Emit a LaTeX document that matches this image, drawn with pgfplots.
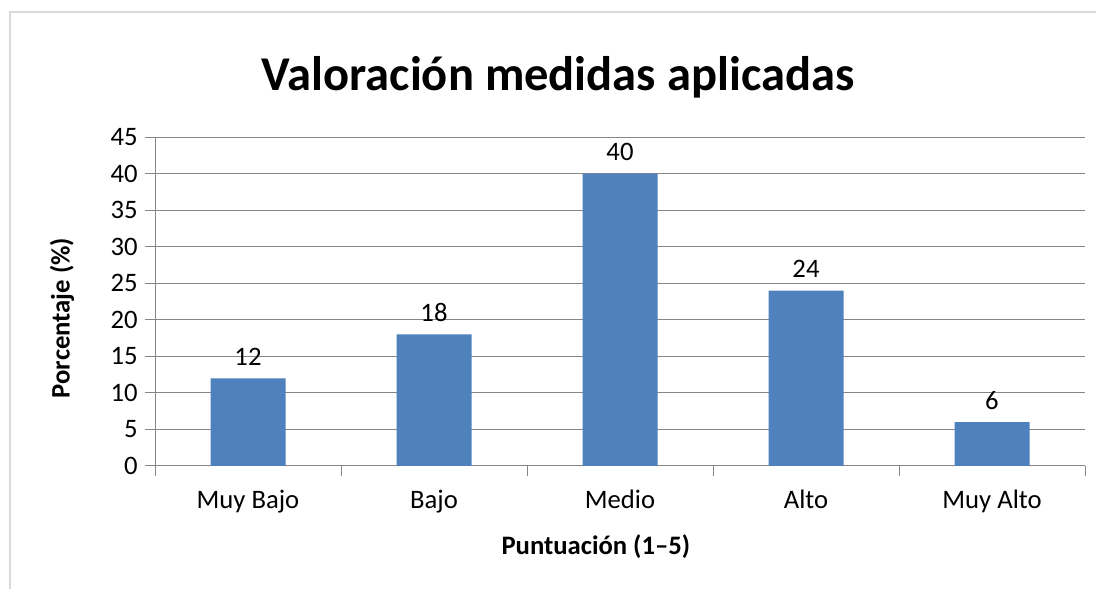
\documentclass[border=0pt]{standalone}
\usepackage{pgfplots}
\pgfplotsset{compat=1.18}
\usepackage{fontspec}
\setmainfont{Carlito}
\definecolor{barblue}{HTML}{4F81BD}
\definecolor{gridgray}{HTML}{868686}
\definecolor{framegray}{HTML}{D9D9D9}
\begin{document}
\begin{tikzpicture}[x=0.75pt,y=0.75pt]
\path[use as bounding box] (0,0) rectangle (1096,589);
\fill[white] (0,0) rectangle (1096,589);
\draw[framegray, line width=1.5pt] (10,0) -- (10,577) -- (1096,577);
\node[font=\fontsize{36.4}{40}\selectfont\bfseries] at (558,512) {Valoración medidas aplicadas};
\begin{axis}[
  at={(116.25pt,92.25pt)}, anchor=south west,
  scale only axis, width=697.5pt, height=246.75pt,
  xmin=-0.5, xmax=4.5, ymin=0, ymax=45,
  ytick={0,5,...,45},
  xtick={0,1,2,3,4},
  xticklabels={Muy Bajo,Bajo,Medio,Alto,Muy Alto},
  minor xtick={-0.5,0.5,1.5,2.5,3.5,4.5},
  ymajorgrids, grid style={gridgray, line width=0.75pt},
  axis x line*=bottom, axis y line*=left,
  axis line style={gridgray, line width=0.75pt},
  x axis line style={-}, y axis line style={-},
  major x tick style={draw=none},
  minor x tick style={gridgray, line width=0.75pt},
  minor tick length=7.5pt,
  y tick style={gridgray, line width=0.75pt},
  major tick length=7.5pt,
  ytick align=outside, xtick align=outside,
  tick label style={font=\fontsize{20}{22}\selectfont},
  /pgf/number format/assume math mode=true,
  xticklabel style={yshift=-7pt},
  yticklabel style={xshift=-2pt},
  ylabel={\bfseries Porcentaje (\%)},
  xlabel={\bfseries Puntuación (1–5)},
  label style={font=\fontsize{20}{22}\selectfont},
  ylabel style={at={(axis description cs:-0.1,0.45)}, anchor=center},
  xlabel style={at={(axis description cs:0.474,-0.246)}, anchor=center},
  ybar, bar width=56.25pt, bar shift=0pt,
  nodes near coords,
  every node near coord/.append style={font=\fontsize{20}{22}\selectfont, black, yshift=6pt},
  clip=false,
]
\addplot[fill=barblue, draw=none] coordinates {(0,12) (1,18) (2,40) (3,24) (4,6)};
\end{axis}
\end{tikzpicture}
\end{document}
